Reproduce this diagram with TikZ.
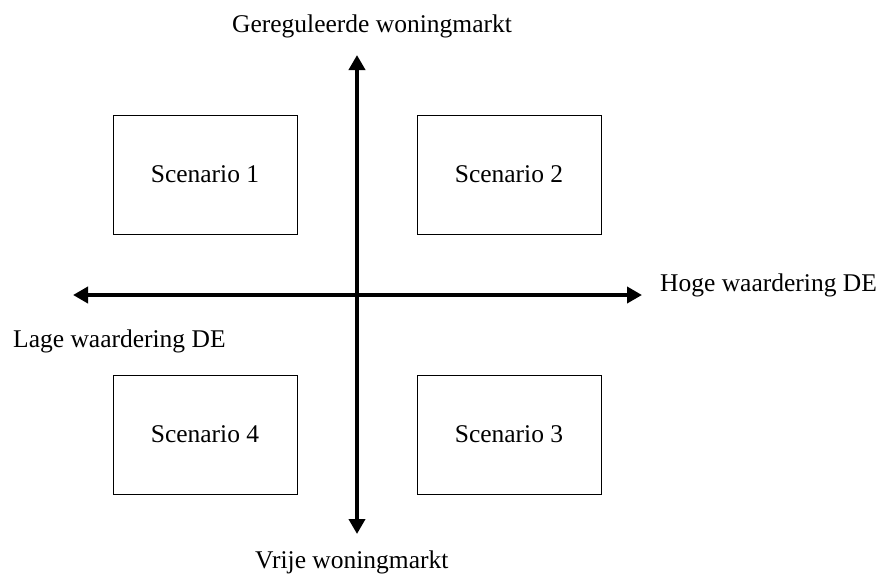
\documentclass[tikz,border=0pt]{standalone}
\usepackage{fontspec}
\setmainfont{Liberation Serif}
\usetikzlibrary{arrows.meta}
\begin{document}
\begin{tikzpicture}[x=1pt,y=-1pt,
  every node/.style={font=\fontsize{25.5}{30}\selectfont, inner sep=0pt},
  scenbox/.style={draw, line width=1pt, minimum width=184pt, minimum height=119pt},
  axislabel/.style={anchor=base west},
  axis/.style={line width=3.8pt, {Triangle[width=16pt,length=15pt]}-{Triangle[width=16pt,length=15pt]}}]
  \useasboundingbox (0,0) rectangle (883,574);
  % axis end points
  \coordinate (top) at (357,55);
  \coordinate (bottom) at (357,534);
  \coordinate (left) at (73,295);
  \coordinate (right) at (642,295);
  % axes
  \draw[axis] (left) -- (right);
  \draw[axis] (bottom) -- (top);
  % scenario boxes
  \node[scenbox] (s1) at (205,174.5) {Scenario 1};
  \node[scenbox] (s2) at (509,174.5) {Scenario 2};
  \node[scenbox] (s4) at (205,434.5) {Scenario 4};
  \node[scenbox] (s3) at (509,434.5) {Scenario 3};
  % axis labels
  \node[axislabel] (ltop) at (232,32) {Gereguleerde woningmarkt};
  \node[axislabel] (lbottom) at (255,568) {Vrije woningmarkt};
  \node[axislabel] (lright) at (660,291) {Hoge waardering DE};
  \node[axislabel] (lleft) at (13,347) {Lage waardering DE};
\end{tikzpicture}
\end{document}
